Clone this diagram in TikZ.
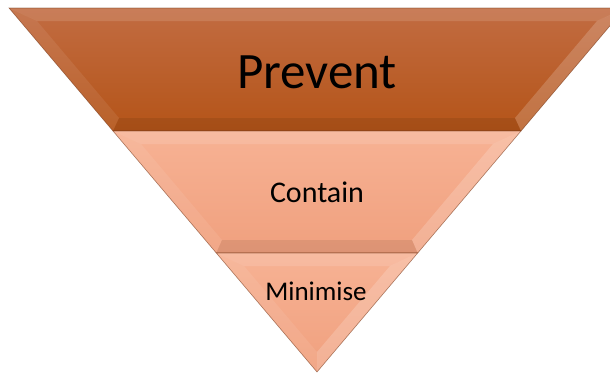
\documentclass[tikz,border=0pt]{standalone}
\usepackage{fontspec}
\setmainfont{Carlito}
\definecolor{preventtop}{RGB}{194,108,66}
\definecolor{preventbot}{RGB}{180,84,24}
\definecolor{salmontop}{RGB}{247,178,148}
\definecolor{salmonbot}{RGB}{240,160,126}
\definecolor{edgebrown}{RGB}{120,60,30}
\tikzset{
  topface/.style={white,opacity=.12},
  leftface/.style={white,opacity=.08},
  rightface/.style={white,opacity=.18},
  botface/.style={black,opacity=.08},
  rim/.style={draw=edgebrown,line width=.6pt,opacity=.6},
  label/.style={text=black,inner sep=0pt,anchor=base}
}

\begin{document}
\begin{tikzpicture}[x=1pt,y=-1pt]
    \useasboundingbox (0,0) rectangle (610,372);
    \clip (0,0) rectangle (610,372);

    % top band
    \shade[top color=preventtop,bottom color=preventbot] (9,8) -- (625,8) -- (521,131) -- (113,131) -- cycle;
    \fill[topface] (9,8) -- (625,8) -- (597,21) -- (37,21) -- cycle;
    \fill[leftface] (9,8) -- (37,21) -- (119,118) -- (113,131) -- cycle;
    \fill[rightface] (625,8) -- (521,131) -- (515,118) -- (597,21) -- cycle;
    \fill[botface] (113,131) -- (119,118) -- (515,118) -- (521,131) -- cycle;
    \draw[rim] (9,8) -- (625,8) -- (521,131) -- (113,131) -- cycle;

    % middle band
    \shade[top color=salmontop,bottom color=salmonbot] (113,131) -- (521,131) -- (417.7,253) -- (216.3,253) -- cycle;
    \fill[topface] (113,131) -- (521,131) -- (493,144) -- (141,144) -- cycle;
    \fill[leftface] (113,131) -- (141,144) -- (222,240) -- (216.3,253) -- cycle;
    \fill[rightface] (521,131) -- (417.7,253) -- (412,240) -- (493,144) -- cycle;
    \fill[botface] (216.3,253) -- (222,240) -- (412,240) -- (417.7,253) -- cycle;
    \draw[rim] (113,131) -- (521,131) -- (417.7,253) -- (216.3,253) -- cycle;

    % bottom band
    \shade[top color=salmontop,bottom color=salmonbot] (216.3,253) -- (417.7,253) -- (317,372) -- cycle;
    \fill[topface] (216.3,253) -- (417.7,253) -- (390,266) -- (244,266) -- cycle;
    \fill[leftface] (216.3,253) -- (244,266) -- (317,352) -- (317,372) -- cycle;
    \fill[rightface] (417.7,253) -- (317,372) -- (317,352) -- (390,266) -- cycle;
    \draw[rim] (216.3,253) -- (417.7,253) -- (317,372) -- cycle;

    \node[label] (prevent) at (317,88) {\fontsize{51}{51}\selectfont Prevent};
    \node[label] (contain) at (317,202) {\fontsize{30}{30}\selectfont Contain};
    \node[label] (minimise) at (316,300) {\fontsize{27}{27}\selectfont Minimise};
\end{tikzpicture}
\end{document}
